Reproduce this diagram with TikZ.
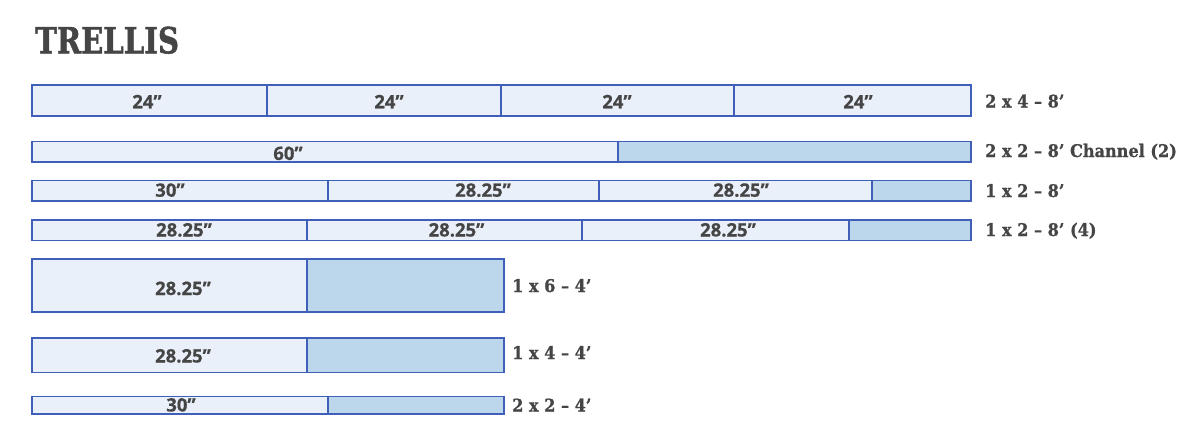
\documentclass[tikz,border=0pt]{standalone}
\usepackage{fontspec}
\newfontfamily\slabfont[BoldFeatures={FakeBold=0.8}]{DejaVu Serif}
\newfontfamily\titlefont[BoldFeatures={FakeBold=1.6}]{DejaVu Serif}
\newfontfamily\numfont[BoldFeatures={FakeBold=0.6}]{Open Sans}
\definecolor{txt}{HTML}{454545}
\definecolor{edge}{HTML}{3F5FB8}
\definecolor{lightfill}{HTML}{EAF0F9}
\definecolor{darkfill}{HTML}{BCD6EB}
\newcommand{\seg}[6]{\node[#6, minimum width={#3pt-#2pt}, minimum height={#5pt-#4pt}, anchor=north west] (#1) at (#2,#4) {};}
\begin{document}
\begin{tikzpicture}[x=1pt,y=-1pt,
  board/.style={draw=edge, line width=1.8pt, rectangle, inner sep=0pt, outer sep=0pt},
  cut/.style={board, fill=lightfill},
  waste/.style={board, fill=darkfill},
  num/.style={anchor=base, inner sep=0pt, text=txt, font=\numfont\bfseries\fontsize{18.5}{20}\selectfont},
  lbl/.style={anchor=base west, inner sep=0pt, text=txt, font=\slabfont\bfseries\fontsize{17.5}{20}\selectfont},
  ttl/.style={anchor=base west, inner sep=0pt, text=txt, font=\titlefont\bfseries\fontsize{36}{40}\selectfont}]
\fill[white] (0,0) rectangle (1200,444);
\useasboundingbox (0,0) rectangle (1200,444);
\node[ttl] (title) at (35,53.3) {\scalebox{0.81}[1]{TRELLIS}};
% row 1
\seg{a1}{32}{267}{85}{116}{cut}
\seg{a2}{267}{501}{85}{116}{cut}
\seg{a3}{501}{734}{85}{116}{cut}
\seg{a4}{734}{971}{85}{116}{cut}
\node[num] (ta1) at (147,108.3) {24”};
\node[num] (ta2) at (389,108.3) {24”};
\node[num] (ta3) at (617,108.3) {24”};
\node[num] (ta4) at (858,108.3) {24”};
\node[lbl] (la) at (985,107.5) {\scalebox{0.92}[1]{2 x 4 – 8’}};
% row 2
\seg{b1}{32}{618}{141.5}{162}{cut}
\seg{b2}{618}{971}{141.5}{162}{waste}
\node[num] (tb1) at (288,160) {60”};
\node[lbl] (lb) at (985,157) {\scalebox{0.92}[1]{2 x 2 – 8’ Channel (2)}};
% row 3
\seg{c1}{32}{328}{180.5}{201}{cut}
\seg{c2}{328}{599}{180.5}{201}{cut}
\seg{c3}{599}{872}{180.5}{201}{cut}
\seg{c4}{872}{971}{180.5}{201}{waste}
\node[num] (tc1) at (170,196.7) {30”};
\node[num] (tc2) at (483,196.7) {28.25”};
\node[num] (tc3) at (741,196.7) {28.25”};
\node[lbl] (lc) at (985,197) {\scalebox{0.92}[1]{1 x 2 – 8’}};
% row 4
\seg{d1}{32}{307}{220}{240.5}{cut}
\seg{d2}{307}{582}{220}{240.5}{cut}
\seg{d3}{582}{849}{220}{240.5}{cut}
\seg{d4}{849}{971}{220}{240.5}{waste}
\node[num] (td1) at (184,236.5) {28.25”};
\node[num] (td2) at (456.5,236.5) {28.25”};
\node[num] (td3) at (728,236.5) {28.25”};
\node[lbl] (ld) at (985,236) {\scalebox{0.92}[1]{1 x 2 – 8’ (4)}};
% row 5
\seg{e1}{32}{307}{259}{312}{cut}
\seg{e2}{307}{504}{259}{312}{waste}
\node[num] (te1) at (183,295) {28.25”};
\node[lbl] (le) at (512,292) {\scalebox{0.92}[1]{1 x 6 – 4’}};
% row 6
\seg{f1}{32}{307}{338}{372.5}{cut}
\seg{f2}{307}{504}{338}{372.5}{waste}
\node[num] (tf1) at (183,362.5) {28.25”};
\node[lbl] (lf) at (512,359) {\scalebox{0.92}[1]{1 x 4 – 4’}};
% row 7
\seg{g1}{32}{328}{396.5}{414}{cut}
\seg{g2}{328}{504}{396.5}{414}{waste}
\node[num] (tg1) at (181,411.5) {30”};
\node[lbl] (lg) at (512,411.5) {\scalebox{0.92}[1]{2 x 2 – 4’}};
\end{tikzpicture}
\end{document}
